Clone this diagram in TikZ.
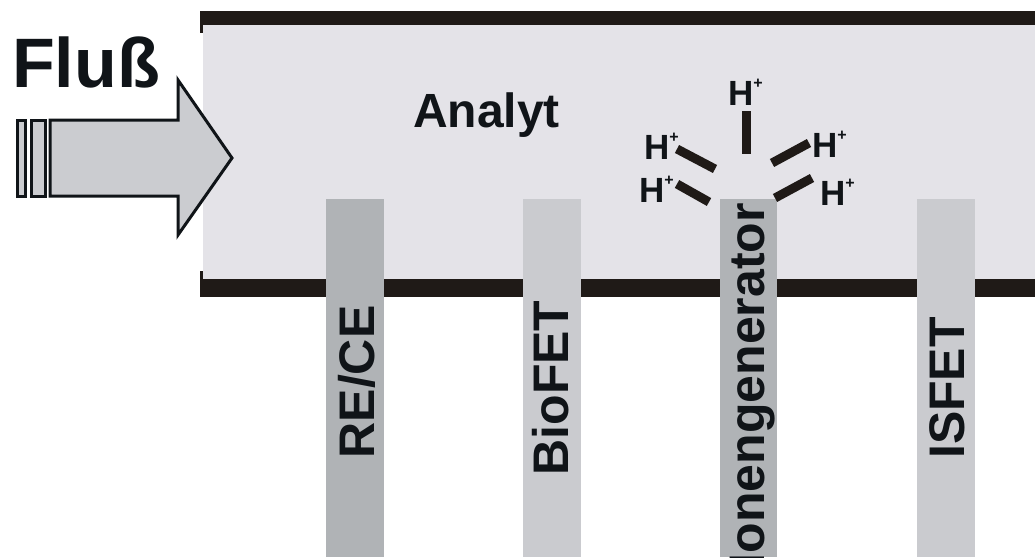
\documentclass[tikz,border=0pt]{standalone}
\usepackage{fontspec}
\setmainfont{Liberation Sans}
\definecolor{wall}{HTML}{1F1A17}
\definecolor{channel}{HTML}{E4E3E8}
\definecolor{flowgray}{HTML}{CBCCD0}
\definecolor{darkel}{HTML}{B0B3B6}
\definecolor{lightel}{HTML}{CACBCF}
\definecolor{ink}{HTML}{101418}
\newcommand{\Hion}{H\raisebox{17pt}{\fontsize{16}{16}\selectfont +}}

\begin{document}
\begin{tikzpicture}[x=1pt, y=-1pt,
    lbl/.style={inner sep=0pt, text=ink, font=\bfseries\fontsize{50}{50}\selectfont},
    ion/.style={inner sep=0pt, text=ink, anchor=base west, font=\bfseries\fontsize{35}{35}\selectfont},
    ionbar/.style={draw=wall, line width=9pt}]
        \useasboundingbox (0,0) rectangle (1035,557);
        \clip (0,0) rectangle (1035,557);

        % Channel
        \fill[channel] (203,25) rectangle (1035,279);
        \fill[wall] (200,11) rectangle (1035,25);
        \fill[wall] (200,279) rectangle (1035,297);
        \fill[wall] (200,25) rectangle (203,33);
        \fill[wall] (200,271) rectangle (203,279);

        % Flow arrow
        \filldraw[fill=flowgray, draw=ink, line width=3pt, line join=miter]
            (50,120) -- (178,120) -- (178,80) -- (232,158) -- (178,235) -- (178,196) -- (50,196) -- cycle;
        \filldraw[fill=flowgray, draw=ink, line width=3pt] (17,120) rectangle (25,196);
        \filldraw[fill=flowgray, draw=ink, line width=3pt] (31,120) rectangle (45,196);

        % Electrodes
        \fill[darkel] (326,199) rectangle (384,557);
        \fill[lightel] (523,199) rectangle (581,557);
        \fill[darkel] (720,199) rectangle (777,557);
        \fill[lightel] (917,199) rectangle (975,557);

        % Labels
        \node at (12,87) [lbl, anchor=base west, font=\bfseries\fontsize{70}{70}\selectfont] (flow) {Fluß};
        \node at (413,127) [lbl, anchor=base west, font=\bfseries\fontsize{48}{48}\selectfont] (analyt) {Analyt};
        \node at (374,382) [lbl, anchor=base, rotate=90] (rece) {RE/CE};
        \node at (568,388) [lbl, anchor=base, rotate=90] (biofet) {BioFET};
        \node at (764,203) [lbl, anchor=base east, rotate=90] (iongen) {Ionengenerator};
        \node at (964,388) [lbl, anchor=base, rotate=90] (isfet) {ISFET};

        % Protons
        \node at (728,105) [ion] (h1) {\Hion};
        \node at (644,159) [ion] (h2) {\Hion};
        \node at (639,202) [ion] (h3) {\Hion};
        \node at (812,157) [ion] (h4) {\Hion};
        \node at (820,205) [ion] (h5) {\Hion};

        \draw[ionbar] (746,111) -- (746,154);
        \draw[ionbar] (677,149) -- (715,169);
        \draw[ionbar] (677,184) -- (709,202);
        \draw[ionbar] (772,163) -- (809,143);
        \draw[ionbar] (775,198) -- (812,178);

    \end{tikzpicture}
\end{document}
